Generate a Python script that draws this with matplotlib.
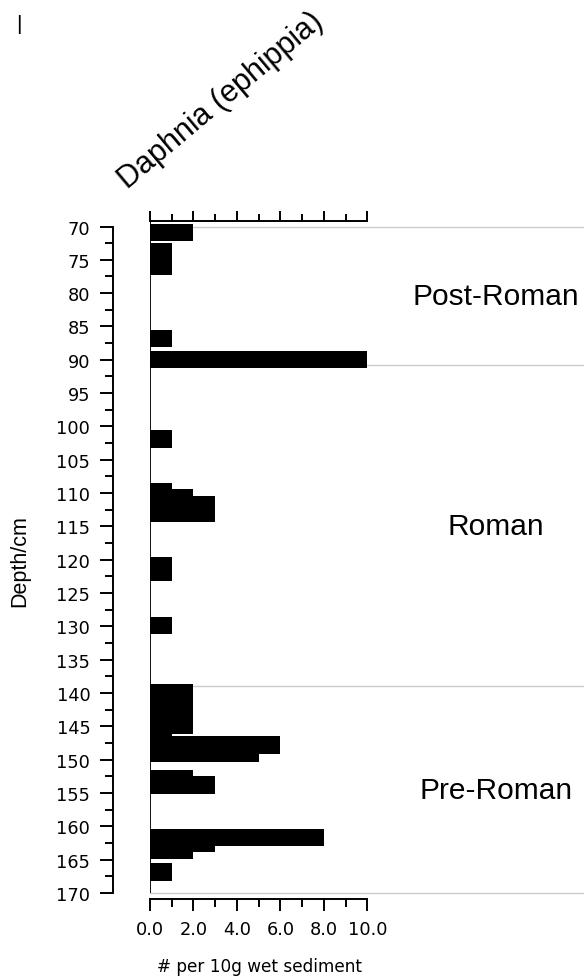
import matplotlib
matplotlib.use('Agg')
import matplotlib.pyplot as plt
import matplotlib.transforms as mtransforms
from matplotlib.ticker import MultipleLocator

# Daphnia ephippia counts, sample mid-depth (cm) and count per 10 g wet sediment
depth = [70.95, 73.8, 76.0, 86.8, 89.95, 101.9,
         109.75, 110.75, 111.8, 113.0, 120.9, 121.9, 129.9,
         139.9, 141.2, 142.6, 143.9, 144.9, 145.8, 147.8, 149.0,
         152.9, 153.8, 161.7, 162.6, 163.6, 166.85]
count = [2, 1, 1, 1, 10, 1,
         1, 2, 3, 3, 1, 1, 1,
         2, 2, 2, 2, 2, 1, 6, 5,
         2, 3, 8, 3, 2, 1]
sample_thickness = 2.6

# period zones (depth limits)
period_names = ['Post-Roman', 'Roman', 'Pre-Roman']
period_bounds = [70, 90.8, 139.0, 170]

x_ticks = [0, 2, 4, 6, 8, 10]
x_ticklabels = ['0.0', '2.0', '4.0', '6.0', '8.0', '10.0']
depth_ticks = list(range(70, 175, 5))

plt.rcParams['font.family'] = 'DejaVu Sans'

fig = plt.figure(figsize=(5.84, 9.78), dpi=100)
ax = fig.add_axes([0.25685, 0.08589, 0.37209, 0.68742])

ax.set_xlim(0, 10)
ax.set_ylim(170, 69.13)

# zone lines behind the bars
for b in period_bounds:
    ax.axhline(b, xmin=0, xmax=2.0, color='#cccccc', lw=1.0, clip_on=False, zorder=1)

ax.barh(depth, count, height=sample_thickness, left=0, color='black',
        edgecolor='none', zorder=3)
ax.axvline(0, color='black', lw=1.3, zorder=4)

# zone labels
trans = mtransforms.blended_transform_factory(ax.transAxes, ax.transData)
for i, name in enumerate(period_names):
    mid = (period_bounds[i] + period_bounds[i + 1]) / 2
    ax.text(1.592, mid, name, transform=trans, ha='center', va='center',
            fontsize=21.5, family='Liberation Sans', clip_on=False)

lw = 1.4

# spines
for s in ['right', 'top']:
    ax.spines[s].set_visible(False)
ax.spines['left'].set_position(('outward', 26.9))
ax.spines['left'].set_bounds(70, 170)
ax.spines['left'].set_linewidth(lw)
ax.spines['bottom'].set_position(('outward', 4.3))
ax.spines['bottom'].set_linewidth(lw)

# depth axis
ax.yaxis.set_minor_locator(MultipleLocator(2.5))
ax.set_yticks(depth_ticks)
ax.tick_params(axis='y', which='major', direction='out', length=9.1, width=lw,
               labelsize=12.8, pad=7)
ax.tick_params(axis='y', which='minor', direction='out', length=5.5, width=lw)
ax.set_ylabel('Depth/cm', fontsize=15.5, family='Liberation Sans', va='center')
ax.yaxis.set_label_coords(-0.598, 0.495)

# bottom x axis
ax.set_xticks(x_ticks)
ax.set_xticklabels(x_ticklabels)
ax.xaxis.set_minor_locator(MultipleLocator(1))
ax.tick_params(axis='x', which='major', direction='out', length=8.4, width=lw,
               labelsize=12.8, pad=7)
ax.tick_params(axis='x', which='minor', direction='out', length=6.0, width=lw)
ax.set_xlabel('# per 10g wet sediment', fontsize=12.2, va='top')
ax.xaxis.set_label_coords(0.506, -0.0952)

# top x axis, ticks only
sec = ax.secondary_xaxis('top')
sec.set_xticks(x_ticks)
sec.xaxis.set_minor_locator(MultipleLocator(1))
sec.tick_params(axis='x', which='major', direction='out', length=7.2, width=lw,
                labeltop=False)
sec.tick_params(axis='x', which='minor', direction='out', length=4.8, width=lw)
sec.spines['top'].set_linewidth(lw)

# taxon name
fig.text(128 / 584, 1 - 190 / 978, 'Daphnia (ephippia)', rotation=40,
         rotation_mode='anchor', ha='left', va='baseline',
         fontsize=22, family='Liberation Sans')
fig.text(19 / 584, 1 - 24 / 978, '|', ha='center', va='center',
         fontsize=15, family='Liberation Sans')

fig.savefig('out.png', dpi=100)
